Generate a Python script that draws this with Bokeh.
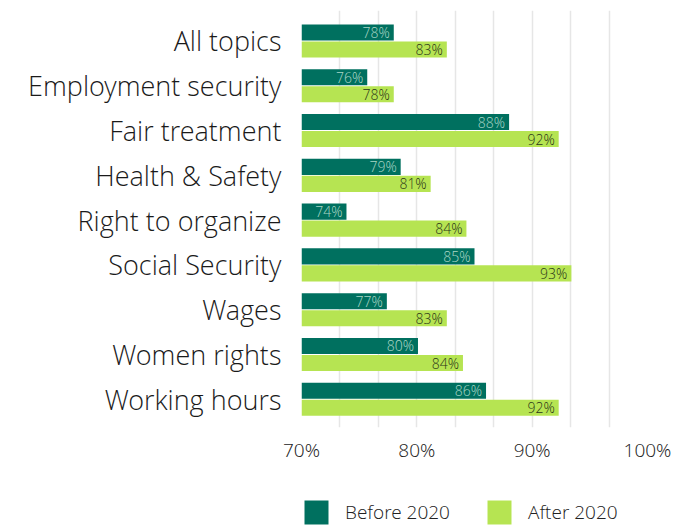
from bokeh.plotting import figure
from bokeh.layouts import column
from bokeh.models import ColumnDataSource, FixedTicker, Legend, LegendItem, CustomJSTickFormatter, Range1d
from bokeh.core.properties import value
from bokeh.embed import file_html
from bokeh.resources import INLINE

categories = ["All topics", "Employment security", "Fair treatment", "Health & Safety",
              "Right to organize", "Social Security", "Wages", "Women rights", "Working hours"]
before_2020 = [78.0, 75.7, 88.0, 78.6, 73.9, 85.0, 77.4, 80.1, 86.0]
after_2020 = [82.6, 78.0, 92.3, 81.2, 84.3, 93.4, 82.6, 84.0, 92.3]
x_ticks = [70, 80, 90, 100]
series_names = ["Before 2020", "After 2020"]

DARK = "#00705F"
LIME = "#B6E452"
FONT = "Open Sans Light, Open Sans"

n = len(categories)
ypos = list(range(n))
off = 0.19
bh = 0.36

src_b = ColumnDataSource(dict(y=[i - off for i in ypos], v=before_2020,
                              lab=[f"{round(v)}%" for v in before_2020]))
src_a = ColumnDataSource(dict(y=[i + off for i in ypos], v=after_2020,
                              lab=[f"{round(v)}%" for v in after_2020]))

p = figure(width=675, height=490, output_backend="svg", toolbar_location=None,
           x_range=Range1d(70, 100), y_range=Range1d(n - 1 + 0.63, -0.68),
           min_border_left=301, min_border_right=28, min_border_top=10, min_border_bottom=63)
p.outline_line_color = None
p.background_fill_color = "white"

rb = p.hbar(y="y", left=70, right="v", height=bh, source=src_b, color=DARK, line_color=None)
ra = p.hbar(y="y", left=70, right="v", height=bh, source=src_a, color=LIME, line_color=None)

p.text(x="v", y="y", text="lab", source=src_b, x_offset=-4, text_align="right",
       text_baseline="middle", text_font=value(FONT), text_font_size="14px", text_color="#A9D6C6")
p.text(x="v", y="y", text="lab", source=src_a, x_offset=-4, text_align="right",
       text_baseline="middle", text_font=value(FONT), text_font_size="14px", text_color="#2A3518")

p.xaxis.ticker = FixedTicker(ticks=x_ticks)
p.xaxis.formatter = CustomJSTickFormatter(code="return tick + '%';")
p.xaxis.axis_line_color = None
p.xaxis.major_tick_line_color = None
p.xaxis.minor_tick_line_color = None
p.xaxis.major_label_text_font = FONT
p.xaxis.major_label_text_font_size = "19px"
p.xaxis.major_label_text_color = "#222222"
p.xaxis.major_label_standoff = 3

p.yaxis.ticker = FixedTicker(ticks=ypos)
p.yaxis.major_label_overrides = {i: c for i, c in enumerate(categories)}
p.yaxis.axis_line_color = None
p.yaxis.major_tick_line_color = None
p.yaxis.minor_tick_line_color = None
p.yaxis.major_label_text_font = FONT
p.yaxis.major_label_text_font_size = "27px"
p.yaxis.major_label_text_color = "#1A1A1A"
p.yaxis.major_label_standoff = 14

p.xgrid.ticker = FixedTicker(ticks=[70 + i * 10 / 3 for i in range(10)])
p.xgrid.grid_line_color = "#E6E6E6"
p.xgrid.grid_line_width = 1.5
p.ygrid.grid_line_color = None

# legend strip (its frame is aligned with the main frame by the column layout)
lg = figure(width=675, height=38, output_backend="svg", toolbar_location=None,
            x_axis_type=None, y_axis_type=None, x_range=Range1d(0, 1), y_range=Range1d(0, 1),
            min_border=0)
lg.outline_line_color = None
lg.grid.grid_line_color = None
# zero-area swatches: they only carry the legend's fill colours
swatch = dict(left=[0], right=[0], top=[0], bottom=[0])
lb = lg.quad(left="left", right="right", top="top", bottom="bottom",
             source=ColumnDataSource(swatch), color=DARK, line_color=None)
la = lg.quad(left="left", right="right", top="top", bottom="bottom",
             source=ColumnDataSource(swatch), color=LIME, line_color=None)
legend = Legend(items=[LegendItem(label=series_names[0], renderers=[lb]),
                       LegendItem(label=series_names[1], renderers=[la])],
                orientation="horizontal", location=(0, 1),
                glyph_width=30, glyph_height=30, label_text_font=FONT,
                label_text_font_size="19px", label_text_color="#222222",
                label_standoff=14, label_width=120, spacing=19, padding=0, margin=0,
                border_line_color=None, background_fill_alpha=0)
lg.add_layout(legend)

open("out.html", "w").write(file_html(column(p, lg, spacing=0), INLINE))
